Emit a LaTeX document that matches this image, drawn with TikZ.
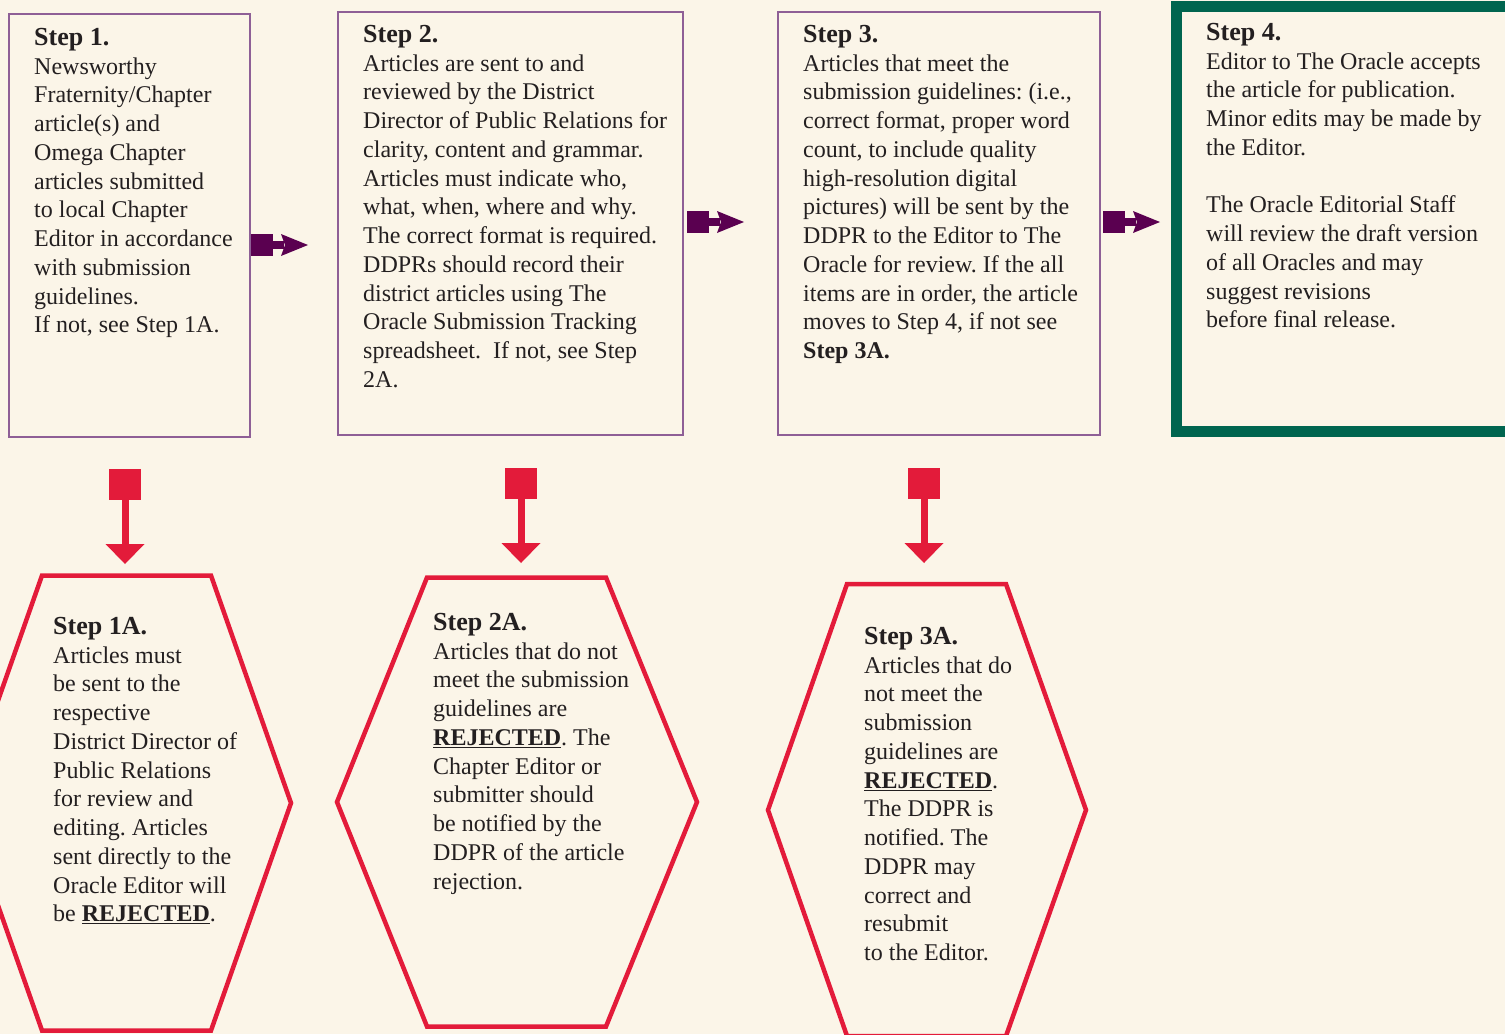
\documentclass[tikz,border=0pt]{standalone}
\usepackage{fontspec}
\setmainfont{Liberation Serif}
\definecolor{bg}{HTML}{FBF5E8}
\definecolor{pborder}{HTML}{8E5F96}
\definecolor{parrow}{HTML}{5A0050}
\definecolor{redc}{HTML}{E31B3A}
\definecolor{greenc}{HTML}{00654F}
\definecolor{txt}{HTML}{231F20}
\newcommand{\hd}[1]{{\fontsize{26}{28.75}\selectfont\bfseries #1}}
\newcommand{\rej}{\underline{\textbf{REJECTED}}}
\frenchspacing
\begin{document}
\begin{tikzpicture}[x=1pt,y=-1pt,
  pbox/.style={draw=pborder,line width=2.4pt,rectangle,inner sep=0pt,outer sep=0pt,anchor=north west},
  gbox/.style={draw=greenc,line width=11pt,rectangle,inner sep=0pt,outer sep=0pt,anchor=north west},
  hexline/.style={draw=redc,line width=4.5pt,line join=miter},
  body/.style={font=\fontsize{24}{28.75}\selectfont,text=txt,align=left,inner sep=0pt,anchor=north west},
  rarrow/.pic={
    \fill[parrow] (0,-11) rectangle (22,11);
    \fill[parrow] (21,-3.8) rectangle (33,3.8);
    \fill[parrow] (30,-11) -- (57,0) -- (30,11) -- (34,0) -- cycle;},
  darrow/.pic={
    \fill[redc] (-16,0) rectangle (16,31);
    \fill[redc] (-3.5,30) rectangle (3.5,76);
    \fill[redc] (-19.5,75) -- (19.5,75) -- (0,95) -- cycle;}
]
\useasboundingbox (0,0) rectangle (1505,1034);
\fill[bg] (0,0) rectangle (1505,1034);
\clip (0,0) rectangle (1505,1034);

% top boxes
\node[pbox,minimum width=241pt,minimum height=423pt] (s1) at (9,14) {};
\node[pbox,minimum width=345pt,minimum height=423pt] (s2) at (338,12) {};
\node[pbox,minimum width=322pt,minimum height=423pt] (s3) at (778,12) {};
\node[gbox,minimum width=338pt,minimum height=425pt] (s4) at (1176.5,6.5) {};

% hexagons
\draw[hexline] (42,575.5) -- (211,575.5) -- (291,803) -- (211,1030.5) -- (42,1030.5) -- (-38,803) -- cycle;
\draw[hexline] (427,577.5) -- (606,577.5) -- (697,802) -- (606,1026.5) -- (427,1026.5) -- (337,802) -- cycle;
\draw[hexline] (847,584) -- (1006,584) -- (1086,810) -- (1006,1036) -- (847,1036) -- (768,810) -- cycle;

% connectors
\path ([xshift=1pt]s1.east |- 0,245) pic {rarrow};
\path ([xshift=4pt]s2.east |- 0,222) pic {rarrow};
\path ([xshift=3pt]s3.east |- 0,222) pic {rarrow};
\path (s1.south -| 125,0) ++(0,32) pic {darrow};
\path (s2.south -| 521,0) ++(0,33) pic {darrow};
\path (s3.south -| 924,0) ++(0,33) pic {darrow};

% texts
\node[body] (t1) at (34,28) {\hd{Step 1.}\\Newsworthy\\Fraternity/Chapter\\article(s) and\\Omega Chapter\\articles submitted\\to local Chapter\\Editor in accordance\\with submission\\guidelines.\\If not, see Step 1A.};
\node[body] (t2) at (363,25) {\hd{Step 2.}\\Articles are sent to and\\reviewed by the District\\Director of Public Relations for\\clarity, content and grammar.\\Articles must indicate who,\\what, when, where and why.\\The correct format is required.\\DDPRs should record their\\district articles using The\\Oracle Submission Tracking\\spreadsheet.\ \ If not, see Step\\2A.};
\node[body] (t3) at (803,25) {\hd{Step 3.}\\Articles that meet the\\submission guidelines: (i.e.,\\correct format, proper word\\count, to include quality\\high-resolution digital\\pictures) will be sent by the\\DDPR to the Editor to The\\Oracle for review. If the all\\items are in order, the article\\moves to Step 4, if not see\\\textbf{Step 3A.}};
\node[body] (t4) at (1206,23) {\hd{Step 4.}\\Editor to The Oracle accepts\\the article for publication.\\Minor edits may be made by\\the Editor.\\[28.75pt]The Oracle Editorial Staff\\will review the draft version\\of all Oracles and may\\suggest revisions\\before final release.};
\node[body] (h1) at (53,617) {\hd{Step 1A.}\\Articles must\\be sent to the\\respective\\District Director of\\Public Relations\\for review and\\editing. Articles\\sent directly to the\\Oracle Editor will\\be \rej.};
\node[body] (h2) at (433,613) {\hd{Step 2A.}\\Articles that do not\\meet the submission\\guidelines are\\\rej. The\\Chapter Editor or\\submitter should\\be notified by the\\DDPR of the article\\rejection.};
\node[body] (h3) at (864,627) {\hd{Step 3A.}\\Articles that do\\not meet the\\submission\\guidelines are\\\rej.\\The DDPR is\\notified. The\\DDPR may\\correct and\\resubmit\\to the Editor.};
\end{tikzpicture}
\end{document}
